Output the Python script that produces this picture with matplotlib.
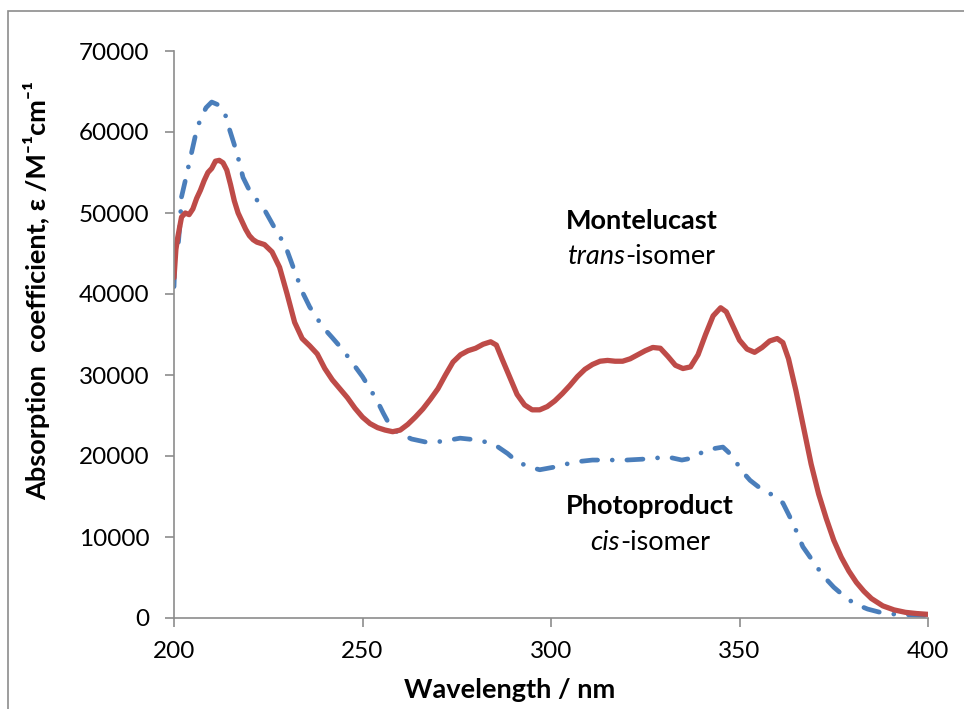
import numpy as np
import matplotlib
matplotlib.use("Agg")
import matplotlib.pyplot as plt
from matplotlib.patches import Rectangle

plt.rcParams["font.family"] = ["Lato", "DejaVu Sans"]

# trans-isomer (Montelucast)
trans_nm = [200, 200.5, 201, 202, 203, 204, 205, 206, 207, 208, 209, 210, 211, 212,
            213, 214, 215, 216, 217, 218, 219, 220, 221, 222, 224, 226, 228, 230,
            232, 234, 236, 238, 240, 242, 244, 246, 248, 250, 252, 254, 256, 258,
            260, 262, 264, 266, 268, 270, 272, 274, 276, 278, 280, 282, 284, 285.5,
            287, 289, 291, 293, 295, 297, 299, 301, 303, 305, 307, 309, 311, 313,
            315, 317, 319, 321, 323, 325, 327, 329, 331, 333, 335, 337, 339, 341,
            343, 345, 346.5, 348, 350, 352, 354, 356, 358, 360, 361.5, 363, 365,
            367, 369, 371, 373, 375, 377, 379, 381, 383, 385, 388, 391, 394, 397, 400]
trans_eps = [42000, 45500, 47000, 49500, 50000, 49800, 50500, 51800, 52800, 54000,
             55000, 55500, 56400, 56500, 56200, 55300, 53500, 51500, 50000, 49000,
             48000, 47200, 46700, 46400, 46100, 45200, 43300, 40000, 36500, 34500,
             33600, 32600, 30800, 29400, 28300, 27200, 25900, 24800, 24000, 23500,
             23200, 23000, 23200, 23900, 24800, 25800, 27000, 28300, 30000, 31600,
             32500, 33000, 33300, 33800, 34100, 33700, 32000, 29800, 27600, 26300,
             25700, 25700, 26100, 26800, 27700, 28700, 29800, 30700, 31300, 31700,
             31800, 31700, 31700, 32000, 32500, 33000, 33400, 33300, 32300, 31200,
             30800, 31000, 32500, 35000, 37300, 38300, 37800, 36300, 34300, 33200,
             32800, 33400, 34200, 34500, 34000, 32000, 28000, 23500, 19000, 15300,
             12300, 9600, 7500, 5800, 4400, 3300, 2400, 1500, 1000, 700, 550, 450]

# cis-isomer (photoproduct)
cis_nm = [200, 200.3, 201, 201.6, 202, 203, 204.2, 205.6, 206.9, 208.5, 210, 212,
          213.5, 214.8, 216.7, 218.3, 220, 222, 224, 227, 229.5, 231.7, 234.2, 236,
          239.5, 242, 244.8, 247, 250, 253.8, 255.5, 257, 259.1, 263, 267, 271,
          275.9, 280, 283, 286, 288.5, 291, 294, 297, 300.5, 304, 307, 311, 315,
          320, 324, 327, 330.8, 334.7, 337, 340.3, 343, 345.6, 347, 348.8, 350.5,
          352.8, 355, 358, 361.5, 364.2, 366.8, 369.2, 371, 373.2, 375, 377.5,
          379.5, 381.4, 384, 387.3, 390, 394.4, 400]
cis_eps = [40900, 45000, 45500, 48700, 52000, 54000, 56500, 59400, 61500, 63000,
           63700, 63300, 62300, 60200, 57400, 54400, 52800, 51600, 50400, 47900,
           46000, 43200, 40100, 38400, 35900, 34600, 33100, 31700, 29800, 26900,
           25300, 24000, 23000, 22100, 21700, 21800, 22200, 22000, 21700, 21100,
           20300, 19300, 18700, 18300, 18600, 19000, 19300, 19500, 19500, 19500,
           19600, 19700, 19900, 19500, 19700, 20500, 20900, 21100, 20500, 19500,
           18200, 17000, 16200, 15400, 14200, 11700, 8800, 7200, 6000, 4700, 3800,
           2800, 2100, 1600, 1100, 700, 500, 400, 300]

x_ticks = [200, 250, 300, 350, 400]
y_ticks = [0, 10000, 20000, 30000, 40000, 50000, 60000, 70000]

W, H = 964, 709
GREY = "#8c8c8c"
fig = plt.figure(figsize=(W / 100, H / 100), dpi=100)
ax = fig.add_axes([174 / W, 1 - 618 / H, (928 - 174) / W, (618 - 51) / H])

# outer chart frame
fig.patches.append(Rectangle((8 / W, -0.05), 1.2, 1 - 11 / H + 0.05,
                             transform=fig.transFigure, fill=False,
                             edgecolor=GREY, linewidth=1.2))

ax.plot(cis_nm, cis_eps, color="#4A7EBB", linewidth=3.4,
        linestyle=(0, (3.4, 3.1, 0.01, 3.1)), dash_capstyle="round",
        dash_joinstyle="round")
ax.plot(trans_nm, trans_eps, color="#BE4B48", linewidth=3.8,
        solid_joinstyle="round", solid_capstyle="round")

ax.set_xlim(200, 400)
ax.set_ylim(0, 70000)
ax.set_xticks(x_ticks)
ax.set_yticks(y_ticks)
ax.tick_params(axis="both", direction="out", length=6.5, color=GREY,
               labelsize=17.5, width=1.2)
ax.tick_params(axis="y", pad=11)
ax.tick_params(axis="x", pad=10)
for side in ("top", "right"):
    ax.spines[side].set_visible(False)
for side in ("left", "bottom"):
    ax.spines[side].set_color(GREY)
    ax.spines[side].set_linewidth(1.2)

fig.text(510 / W, 1 - 690 / H, "Wavelength / nm", ha="center", va="center",
         fontsize=19.5, fontweight="bold")
fig.text(37 / W, 1 - 290 / H,
         "Absorption  coefficient, ε /M\u207b\u00b9cm\u207b\u00b9",
         ha="center", va="center", rotation=90, fontsize=19.5,
         fontweight="bold")

ax.text(324, 49000, "Montelucast", ha="center", va="center", fontsize=19.5,
        fontweight="bold")
ax.text(326.3, 13830, "Photoproduct", ha="center", va="center", fontsize=19.5,
        fontweight="bold")


def mixed_line(x, y, italic, plain):
    # italic prefix + regular suffix, centred on x as one line
    fig.canvas.draw()
    r = fig.canvas.get_renderer()
    t1 = ax.text(0, 0, italic, fontsize=19.5, style="italic")
    t2 = ax.text(0, 0, plain, fontsize=19.5)
    w1 = t1.get_window_extent(r).width
    w2 = t2.get_window_extent(r).width
    cx, cy = ax.transData.transform((x, y))
    t1.set_transform(None)
    t2.set_transform(None)
    t1.set_position((cx - (w1 + w2) / 2, cy))
    t2.set_position((cx - (w1 + w2) / 2 + w1, cy))
    t1.set_va("center")
    t2.set_va("center")


mixed_line(324, 44570, "trans", "-isomer")
mixed_line(326.3, 9380, "cis", "-isomer")

fig.savefig("out.png", dpi=100)
